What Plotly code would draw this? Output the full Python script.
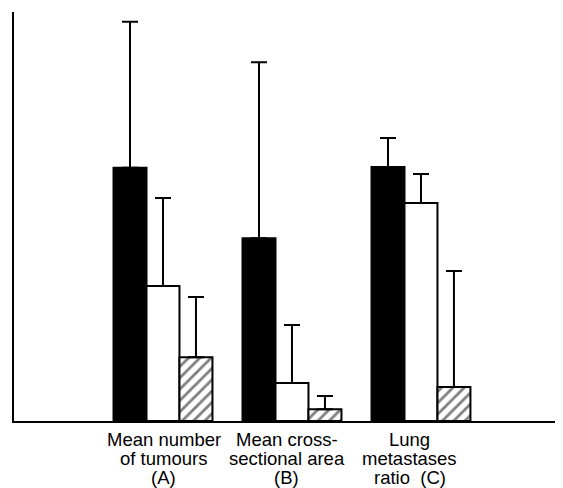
import plotly.graph_objects as go

categories = ["A", "B", "C"]
label_lines = [
    ["Mean number", "of tumours", "(A)"],
    ["Mean cross-", "sectional area", "(B)"],
    ["Lung", "metastases", "ratio  (C)"],
]
black_vals = [61.9, 44.7, 62.1]
black_err = [35.7, 43.0, 7.1]
white_vals = [33.0, 9.3, 53.3]
white_err = [21.5, 14.2, 7.1]
hatch_vals = [15.6, 2.9, 8.3]
hatch_err = [14.7, 3.2, 28.4]

fig = go.Figure()

def add(vals, errs, fill, pattern=None):
    marker = dict(color=fill, line=dict(color="black", width=2))
    if pattern:
        marker["pattern"] = pattern
    fig.add_trace(go.Bar(
        x=categories, y=vals, marker=marker,
        error_y=dict(type="data", symmetric=False, array=errs,
                     arrayminus=[0] * len(errs), color="black",
                     thickness=2, width=8),
        showlegend=False,
    ))

add(black_vals, black_err, "black")
add(white_vals, white_err, "white")
add(hatch_vals, hatch_err, "white",
    pattern=dict(shape="/", fgcolor="black", bgcolor="white", size=8, solidity=0.35))

# page body has an 8px margin, so the figure is sized/offset to compensate
fig.update_layout(
    width=555, height=480,
    margin=dict(l=6, r=8, t=4, b=67),
    paper_bgcolor="white", plot_bgcolor="white",
    barmode="group", bargap=0.233, bargroupgap=0,
    font=dict(family="Liberation Sans, Arial, sans-serif", color="black", size=18.5),
)
fig.update_xaxes(range=[-1.155, 3.039], showline=True, linecolor="black", linewidth=2,
                 showticklabels=False, ticks="", showgrid=False, zeroline=False)
fig.update_yaxes(range=[0, 100], showline=True, linecolor="black", linewidth=2,
                 showticklabels=False, ticks="", showgrid=False, zeroline=False)

xshifts = [1, -5, -11]
for ci, lines in enumerate(label_lines):
    for li, txt in enumerate(lines):
        fig.add_annotation(
            x=categories[ci], xref="x", y=0, yref="paper",
            text=txt, showarrow=False, xanchor="center", yanchor="top",
            yshift=-(7 + 19 * li), xshift=xshifts[ci], borderpad=0,
            font=dict(size=18.5, family="Liberation Sans, Arial, sans-serif", color="black"),
        )

fig.write_html("out.html")
